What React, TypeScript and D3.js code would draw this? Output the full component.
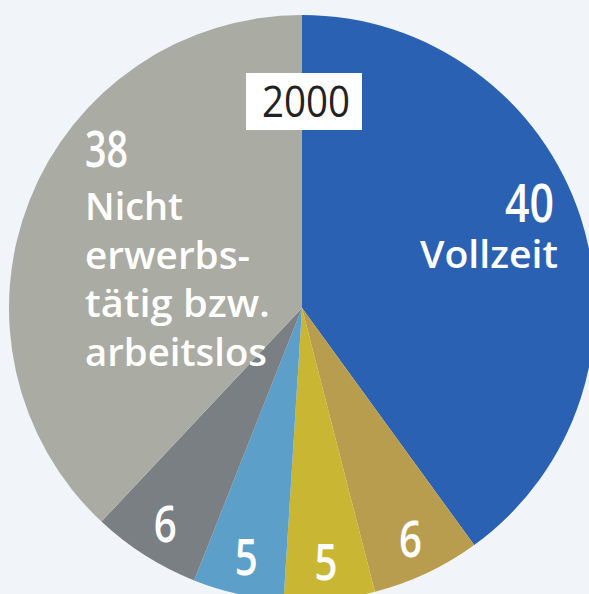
import React from "react";
import * as d3 from "d3";

const categories = ["Vollzeit", "Teilzeit A", "Teilzeit B", "Teilzeit C", "Sonstige", "Nicht erwerbstätig bzw. arbeitslos"];
const values = [40, 6, 5, 5, 6, 38];
const colors = ["#2b61b2", "#b99d4f", "#c9b734", "#5c9fc9", "#7a7f84", "#aaaba3"];
const yearLabel = "2000";
const leftLabelLines = ["Nicht", "erwerbs-", "tätig bzw.", "arbeitslos"];
const leftLabelWidths = [98, 165, 185, 182];
const rightLabel = "Vollzeit";

const W = 589;
const H = 594;
const cx = 302;
const cy = 308;
const R = 293;
const FONT = "'Open Sans', 'DejaVu Sans Condensed', sans-serif";

export default function App() {
  const data = categories.map((c, i) => ({ c, v: values[i], col: colors[i] }));
  const pie = d3.pie<any>().value((d) => d.v).sort(null).startAngle(0).endAngle(2 * Math.PI);
  const arcs = pie(data);
  const arc = d3.arc<any>().innerRadius(0).outerRadius(R);
  const labelArc = d3.arc<any>().innerRadius(255).outerRadius(255);

  return (
    <svg width={W} height={H} style={{ position: "absolute", left: 0, top: 0 }}>
      <rect x={0} y={0} width={W} height={H} fill="#f1f4f8" />
      <g transform={`translate(${cx},${cy})`}>
        {arcs.map((a, i) => (
          <path key={i} d={arc(a) as string} fill={a.data.col} />
        ))}
        {arcs.map((a, i) => {
          if (i === 0 || i === arcs.length - 1) return null;
          const [x, y] = labelArc.centroid(a);
          return (
            <text key={"l" + i} x={x - 11.5} y={y} dy="0.36em" fill="#ffffff"
              fontFamily={FONT} fontSize={51} fontWeight={600} textLength={23} lengthAdjust="spacingAndGlyphs">
              {a.data.v}
            </text>
          );
        })}
      </g>
      {/* year box */}
      <rect x={246} y={73} width={116} height={57} fill="#ffffff" />
      <text x={262} y={117} fontFamily={FONT} fontSize={44} fill="#222" textLength={88} lengthAdjust="spacingAndGlyphs">
        {yearLabel}
      </text>
      {/* right label */}
      <text x={505} y={222} fontFamily={FONT} fontSize={52} fill="#fff" fontWeight={600} textLength={49} lengthAdjust="spacingAndGlyphs">
        {values[0]}
      </text>
      <text x={420} y={268} fontFamily={FONT} fontSize={37} fill="#fff" fontWeight={600} textLength={138} lengthAdjust="spacingAndGlyphs">
        {rightLabel}
      </text>
      {/* left label */}
      <text x={85} y={167} fontFamily={FONT} fontSize={51} fill="#fff" fontWeight={600} textLength={43} lengthAdjust="spacingAndGlyphs">
        {values[5]}
      </text>
      {leftLabelLines.map((t, i) => (
        <text key={t} x={85} y={220 + i * 48.5} fontFamily={FONT} fontSize={38} fill="#fff" fontWeight={600}
          textLength={leftLabelWidths[i]} lengthAdjust="spacingAndGlyphs">
          {t}
        </text>
      ))}
    </svg>
  );
}
